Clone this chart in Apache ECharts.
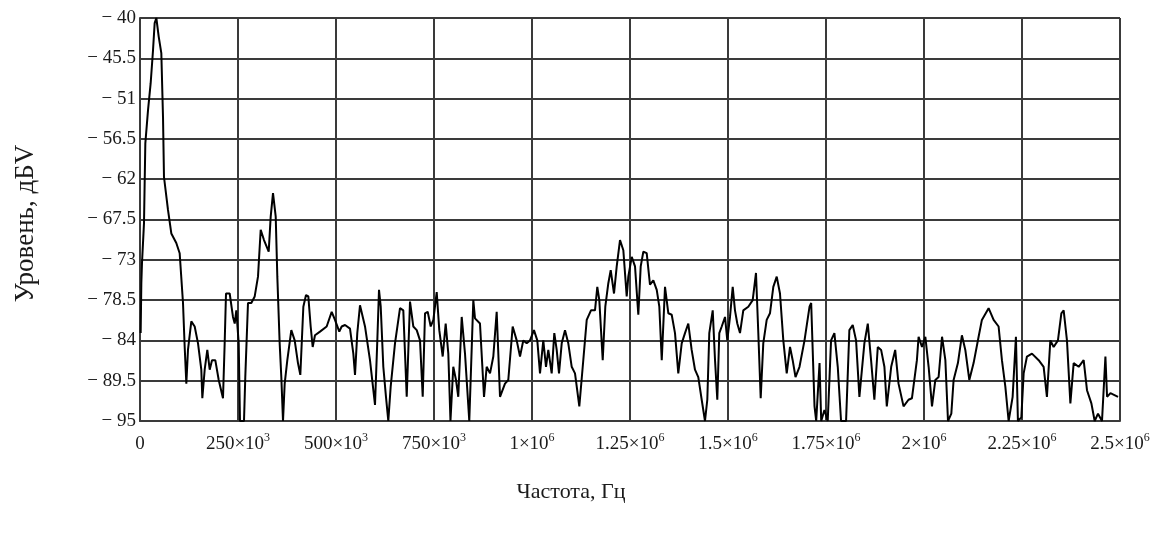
<!DOCTYPE html>
<html>
<head>
<meta charset="utf-8">
<script src="https://cdn.jsdelivr.net/npm/echarts@6/dist/echarts.min.js"></script>
<style>
html,body{margin:0;padding:0;background:#fff;}
#chart{width:1169px;height:535px;}
</style>
</head>
<body>
<div id="chart"></div>
<script>
// Frequency, kHz
const freqKHz = [
1.7,3.4,5.1,10.2,13.6,20.4,27.2,33.2,37.4,41.7,47.6,54.4,58.7,61.2,71.4,79.9,92.6,101.2,109.7,114,
118.2,122.4,130.9,139.5,148,156.4,159,165,171.7,177.8,183.7,192.1,200.8,211.7,216,219.4,228.8,237.2,241.6,245.7,
251.8,255.1,265.3,268.6,275.5,284,292.6,301,307.9,316.3,328.3,333.4,339.3,346.2,350.3,356.3,360.5,364.8,369.1,375.8,
386,394.6,403,409,416.7,423.5,429.4,435.4,440.5,446.4,459.2,476.2,489,497.4,508.4,514.5,523,535.7,544.2,548.5,
554.3,561.2,574,586.7,599.5,605.4,609.7,614.1,620.7,627.5,633.4,639.5,650.5,663.3,671.7,680.4,688.8,697.2,705.9,714.3,
721.2,727.1,733.9,741.6,748.4,756.9,763.5,772.2,779.8,786.5,792,799.2,806.1,811.9,820.7,829.1,840,850.3,854.6,867.3,
877.6,884.4,892.9,901.3,909.9,918.4,931.1,939.5,950.7,960.9,969.4,977.8,986.5,994.9,1005,1013.5,1020.4,1028.8,1035.7,1041.6,
1050.2,1056.9,1063,1068.9,1075.8,1084.2,1092.6,1101.3,1109.7,1120.7,1129.4,1139.6,1150.5,1160.7,1166.6,1171.7,1180.4,1187,1194.7,1200.8,
1209.2,1216.1,1224.5,1229,1233,1241.6,1245.7,1254.4,1262.8,1271.2,1277.3,1284,1292.6,1301,1309.5,1318.2,1324.8,1331,1339.3,1347.8,
1356.4,1364.8,1373.2,1381.9,1390.3,1398.7,1407.3,1415.8,1424.2,1432.9,1441.3,1447.2,1452.3,1461,1466.9,1472.7,1477.8,1484,1492.4,1498.2,
1505.1,1512,1517.8,1523.7,1530.6,1539,1551.8,1563,1571.4,1577.3,1583.4,1590,1598.7,1607.1,1615.6,1624.3,1632.6,1641.1,1649.8,1658.2,
1665,1672.2,1682.4,1695.2,1708,1712.2,1720.7,1725,1733.5,1737.8,1746,1754.4,1762.9,1771.4,1780,1788.4,1801.2,1809.6,1818.2,1826.7,
1835.2,1847.9,1856.6,1865,1873.4,1882.1,1890.6,1899,1905.1,1916.3,1926.5,1935,1947.8,1960.5,1969.2,1981.9,1986.2,1994.9,2003.4,2011.8,
2020.4,2028.9,2037.3,2046,2054.5,2061.2,2069.7,2075.5,2086.5,2096.7,2105.4,2115.6,2126.5,2139.3,2147.7,2164.8,2177.6,2190.3,2198.8,2207.5,
2215.9,2226.1,2234.5,2239.6,2248.3,2254.2,2262.6,2275.4,2292.5,2305.2,2313.6,2322.3,2330.7,2341.7,2350.4,2356.3,2364.7,2373.4,2381.8,2394.6,
2407.3,2415.8,2427,2435.4,2443.9,2454.1,2462.8,2467,2475.6,2495
];
// Level, dBV
const levelDb = [
-83.0,-76.2,-73.4,-68.0,-57.1,-52.6,-48.9,-44.4,-40.7,-40.0,-42.5,-44.8,-53.5,-61.7,-66.2,-69.4,-70.7,-72.1,-78.9,-84.9,
-89.9,-85.3,-81.4,-82.1,-84.4,-88.0,-91.9,-88.0,-85.3,-88.0,-86.7,-86.7,-89.4,-91.9,-84.4,-77.6,-77.6,-80.8,-81.7,-79.9,
-84.4,-95,-95,-89.0,-78.9,-78.9,-78.0,-75.3,-68.9,-70.3,-71.9,-67.1,-63.9,-67.1,-75.3,-84.4,-89.0,-95,-89.9,-86.7,
-82.6,-84.0,-87.1,-88.7,-79.4,-77.8,-78.0,-82.1,-84.9,-83.3,-82.8,-82.1,-80.1,-81.2,-82.8,-82.1,-81.9,-82.4,-85.8,-88.7,
-83.0,-79.2,-82.1,-86.7,-92.8,-84.0,-77.1,-79.4,-87.6,-91.7,-95,-90.3,-84.4,-79.6,-79.9,-91.7,-78.7,-82.1,-82.6,-84.0,
-91.7,-80.3,-80.1,-82.1,-81.2,-77.4,-82.6,-86.2,-81.7,-85.8,-95,-87.6,-89.4,-91.7,-80.8,-85.8,-95,-78.5,-81.0,-81.7,
-91.7,-87.6,-88.5,-86.2,-80.1,-91.7,-89.9,-89.4,-82.1,-84.0,-86.2,-84.0,-84.4,-84.0,-82.6,-84.0,-88.5,-84.0,-87.6,-85.3,
-88.5,-83.0,-85.3,-88.5,-84.4,-82.6,-84.4,-87.6,-88.5,-93.0,-87.6,-81.2,-79.9,-79.9,-76.7,-78.5,-86.7,-79.4,-76.2,-74.4,
-77.6,-73.9,-70.3,-70.1,-71.7,-78.0,-75.3,-72.6,-73.9,-80.5,-73.9,-71.9,-72.1,-76.4,-75.8,-77.1,-79.4,-86.7,-76.7,-80.3,
-80.5,-83.0,-88.5,-84.4,-83.0,-81.7,-85.3,-88.0,-89.0,-92.1,-95,-92.1,-83.0,-79.9,-86.7,-92.1,-83.0,-82.1,-80.8,-84.0,
-80.8,-76.7,-79.9,-81.7,-83.0,-79.9,-79.4,-78.5,-74.8,-83.0,-91.9,-84.4,-81.2,-80.3,-76.7,-75.3,-77.6,-84.0,-88.5,-84.9,
-86.7,-89.0,-87.6,-84.0,-79.4,-78.9,-93.0,-95,-87.1,-95,-93.5,-95,-84.0,-83.0,-87.6,-95,-95,-82.6,-81.9,-84.0,
-91.7,-84.4,-81.7,-86.7,-92.1,-84.9,-85.3,-87.6,-93.0,-87.6,-85.3,-89.9,-93.0,-92.1,-91.9,-86.7,-83.5,-84.9,-83.5,-87.6,
-93.0,-89.4,-89.0,-83.5,-86.7,-95,-94.0,-89.4,-87.1,-83.3,-85.3,-89.4,-87.1,-83.5,-81.2,-79.6,-81.2,-82.1,-86.7,-90.3,
-95,-91.7,-83.5,-95,-94.5,-88.5,-86.2,-85.8,-86.7,-87.6,-91.7,-84.0,-84.9,-84.0,-80.3,-79.9,-84.0,-92.6,-87.1,-87.6,
-86.7,-90.8,-92.6,-95,-94.0,-95,-86.2,-91.7,-91.2,-91.7
];
const yTitle = 'Уровень, дБV';
const xTitle = 'Частота, Гц';

const seriesData = freqKHz.map((f, i) => [f * 1000, levelDb[i]]);
const FONT = 'Liberation Serif';
const gridColor = '#3a3a3a';
const textColor = '#1a1a1a';

const chart = echarts.init(document.getElementById('chart'), null, {renderer: 'canvas'});
chart.setOption({
  backgroundColor: '#ffffff',
  animation: false,
  grid: {left: 140, right: 49, top: 18, bottom: 114, containLabel: false},
  xAxis: {
    type: 'value', min: 0, max: 2500000, interval: 250000,
    name: xTitle, nameLocation: 'middle', nameGap: 60,
    nameTextStyle: {fontFamily: FONT, fontSize: 22, color: textColor, padding: [0, 118, 0, 0]},
    axisLine: {show: true, lineStyle: {color: gridColor, width: 2}},
    axisTick: {show: false},
    splitLine: {show: true, lineStyle: {color: gridColor, width: 2}},
    axisLabel: {
      margin: 11, color: textColor, fontFamily: FONT, fontSize: 19,
      formatter: function (v) {
        if (v === 0) return '{b|0}';
        if (v >= 1e6) return '{b|' + (+(v / 1e6).toFixed(2)) + '×10}{s|6}';
        return '{b|' + (v / 1000) + '×10}{s|3}';
      },
      rich: {
        b: {fontFamily: FONT, fontSize: 19, color: textColor, lineHeight: 24},
        s: {fontFamily: FONT, fontSize: 12, color: textColor, verticalAlign: 'top', lineHeight: 24}
      }
    }
  },
  yAxis: {
    type: 'value', min: -95, max: -40, interval: 5.5,
    name: yTitle, nameLocation: 'middle', nameGap: 101, nameRotate: 90,
    nameTextStyle: {fontFamily: FONT, fontSize: 27, color: textColor, padding: [0, 8, 0, 0]},
    axisLine: {show: true, lineStyle: {color: gridColor, width: 2}},
    axisTick: {show: false},
    splitLine: {show: true, lineStyle: {color: gridColor, width: 2}},
    axisLabel: {
      margin: 4, color: textColor, fontFamily: FONT, fontSize: 19,
      formatter: function (v) { return '− ' + Math.abs(v); }
    }
  },
  series: [{
    type: 'line', data: seriesData, showSymbol: false, symbol: 'none',
    lineStyle: {color: '#000000', width: 2}, clip: true
  }]
});
</script>
</body>
</html>
